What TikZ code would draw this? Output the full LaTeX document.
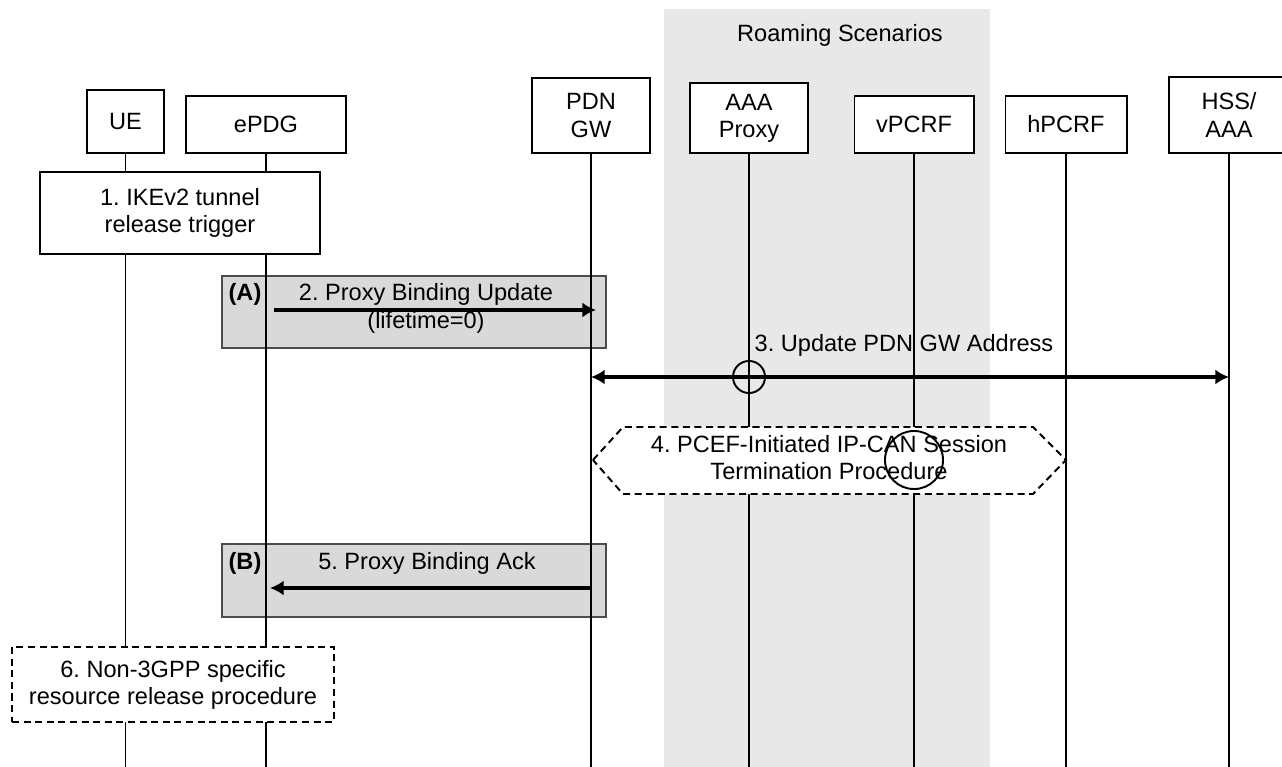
\documentclass[tikz,border=0pt]{standalone}
\usepackage{fontspec}
\setmainfont{Liberation Sans}
\frenchspacing
\usetikzlibrary{arrows.meta, positioning, calc}
\definecolor{roamgray}{HTML}{E8E8E8}
\definecolor{boxgray}{HTML}{D9D9D9}

\begin{document}
\begin{tikzpicture}[x=0.01cm, y=-0.01cm, >={Latex[length=3.9pt,width=4.3pt]},
    every node/.style={font=\fontsize{6.7}{7.7}\selectfont, align=center, inner sep=0pt},
    entity/.style={draw, line width=0.55pt, fill=white},
    lifeline/.style={line width=0.55pt},
    msg/.style={line width=0.9pt},
    procdash/.style={line width=0.55pt, dash pattern=on 2pt off 1.3pt}]
      \useasboundingbox (0,0) rectangle (1282,767);
      \coordinate (bot) at (0,767);
      % Roaming band
      \fill[roamgray] (664,9) rectangle (990,767);
      \node (roam) at (840,35) {Roaming Scenarios};
      % Entities
      \node[entity, minimum width=0.77cm, minimum height=0.63cm] (ue) at (125.5,121.5) {UE};
      \node[entity, minimum width=1.59cm, minimum height=0.57cm] (epdg) at (266,124.5) {ePDG};
      \node[entity, minimum width=1.18cm, minimum height=0.75cm] (pdngw) at (591,115.5) {PDN\\GW};
      \node[entity, minimum width=1.18cm, minimum height=0.70cm] (aaa) at (749,118) {AAA\\Proxy};
      \node[entity, minimum width=1.19cm, minimum height=0.57cm] (vpcrf) at (914,124.5) {vPCRF};
      \node[entity, minimum width=1.21cm, minimum height=0.57cm] (hpcrf) at (1066,124.5) {hPCRF};
      \node[entity, minimum width=1.20cm, minimum height=0.76cm] (hss) at (1229,115) {HSS/\\AAA};
      % Shaded frames (A) and (B)
      \node[draw=black!70, fill=boxgray, minimum width=3.84cm, minimum height=0.72cm] (boxa) at (414,312) {};
      \node[draw=black!70, fill=boxgray, minimum width=3.84cm, minimum height=0.73cm] (boxb) at (414,580.5) {};
      % Lifelines
      \foreach \n in {ue,epdg,pdngw,aaa,vpcrf,hpcrf,hss}
        \draw[lifeline] (\n.south) -- (\n.south |- bot);
      % 1. Tunnel release trigger
      \node[entity, minimum width=2.80cm, minimum height=0.82cm] (trigger) at (180,213)
        {1. IKEv2 tunnel\\release trigger};
      % 2. Proxy Binding Update
      \coordinate (m2) at (0,310);
      \node (taga) at (245,294) {\textbf{(A)}};
      \draw[msg,->] ([xshift=0.08cm]epdg.south |- m2) -- ([xshift=0.05cm]pdngw.south |- m2);
      \node (pbu) at (426,294) {2. Proxy Binding Update};
      \node (pbulife) at (426,322) {(lifetime=0)};
      % 3. Update PDN GW Address
      \coordinate (m3) at (0,377);
      \draw[msg,<->] (pdngw.south |- m3) -- (hss.south |- m3);
      \node (upd) at (904,345) {3. Update PDN GW Address};
      \draw[line width=0.55pt] (aaa.south |- m3) circle (0.16cm);
      % 4. IP-CAN session termination
      \draw[procdash, fill=white] (593,460) -- (623,427) -- (1033,427) -- (1066,460)
        -- (1033,494) -- (623,494) -- cycle;
      \node (ipcan) at (829,458) {4. PCEF-Initiated IP-CAN Session\\Termination Procedure};
      \draw[line width=0.55pt] (vpcrf.south |- 0,460) circle (0.29cm);
      % 5. Proxy Binding Ack
      \coordinate (m5) at (0,588);
      \node (tagb) at (245,563) {\textbf{(B)}};
      \draw[msg,->] (pdngw.south |- m5) -- ([xshift=0.04cm]epdg.south |- m5);
      \node (pba) at (427,563) {5. Proxy Binding Ack};
      % 6. Non-3GPP resource release
      \node[entity, procdash, minimum width=3.22cm, minimum height=0.75cm] (release) at (173,684.5)
        {6. Non-3GPP specific\\resource release procedure};
    \end{tikzpicture}
\end{document}
